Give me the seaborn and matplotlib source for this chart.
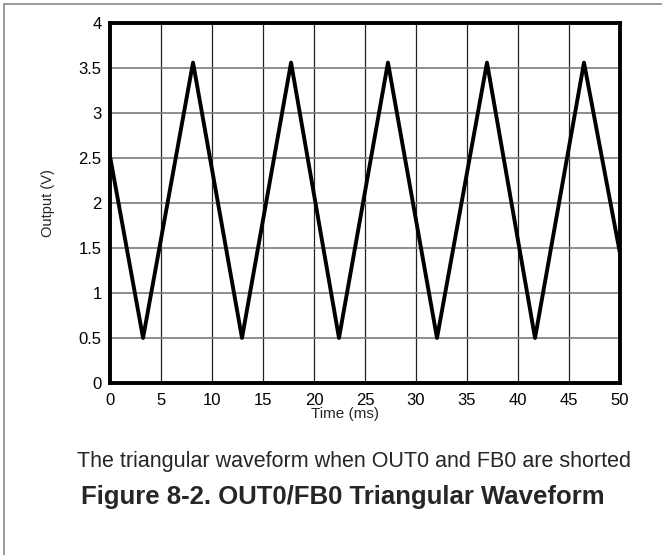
import matplotlib
matplotlib.use("Agg")
import matplotlib.pyplot as plt
import seaborn as sns
import pandas as pd
from matplotlib.patches import Rectangle

# Triangle waveform corner points (time in ms, output in V)
time_ms = [0.0, 3.24, 8.14, 12.94, 17.75, 22.45, 27.25, 32.06, 36.96, 41.67, 46.47, 50.0]
output_v = [2.52, 0.50, 3.56, 0.50, 3.56, 0.50, 3.56, 0.50, 3.56, 0.50, 3.56, 1.44]

x_ticks = [0, 5, 10, 15, 20, 25, 30, 35, 40, 45, 50]
x_tick_labels = ["0", "5", "10", "15", "20", "25", "30", "35", "40", "45", "50"]
y_ticks = [0, 0.5, 1, 1.5, 2, 2.5, 3, 3.5, 4]
y_tick_labels = ["0", "0.5", "1", "1.5", "2", "2.5", "3", "3.5", "4"]

caption = "The triangular waveform when OUT0 and FB0 are shorted"
title = "Figure 8-2. OUT0/FB0 Triangular Waveform"

sns.set_theme(style="white")
plt.rcParams["font.family"] = ["Liberation Sans", "DejaVu Sans"]

W, H = 662, 555
fig = plt.figure(figsize=(W / 100, H / 100), dpi=100)
fig.patch.set_facecolor("white")

# frame around the figure (left and top edges visible)
fig.add_artist(Rectangle((4 / W, -0.05), 1.2, (H - 4) / H + 0.05,
                         transform=fig.transFigure, fill=False,
                         edgecolor="#8a8a8a", linewidth=1.2))

ax = fig.add_axes([110 / W, (H - 383) / H, 510 / W, 360 / H])

df = pd.DataFrame({"Time (ms)": time_ms, "Output (V)": output_v})
sns.lineplot(data=df, x="Time (ms)", y="Output (V)", ax=ax, sort=False,
             estimator=None, color="black", linewidth=2.8, zorder=5)

ax.set_xlim(0, 50)
ax.set_ylim(0, 4)
ax.set_xticks(x_ticks)
ax.set_xticklabels(x_tick_labels)
ax.set_yticks(y_ticks)
ax.set_yticklabels(y_tick_labels)
ax.tick_params(axis="both", length=0, labelsize=12, labelcolor="black")
ax.tick_params(axis="x", pad=7)
ax.tick_params(axis="y", pad=6)

for xv in x_ticks[1:-1]:
    ax.axvline(xv, color="#222222", linewidth=0.9, zorder=1)
for yv in y_ticks[1:-1]:
    ax.axhline(yv, color="#7a7a7a", linewidth=1.2, zorder=1)

for side in ["left", "right", "top", "bottom"]:
    ax.spines[side].set_visible(True)
    ax.spines[side].set_color("black")
    ax.spines[side].set_linewidth(2.8)
    ax.spines[side].set_zorder(6)

ax.set_xlabel("")
ax.set_ylabel("")
fig.text(345 / W, 1 - 414 / H, "Time (ms)", ha="center", va="center", fontsize=11)
fig.text(48 / W, 1 - 203 / H, "Output (V)", ha="center", va="center",
         rotation=90, fontsize=10.5)

fig.text(354 / W, 1 - 461 / H, caption, ha="center", va="center", fontsize=15.5)
fig.text(343 / W, 1 - 497 / H, title, ha="center", va="center",
         fontsize=18.5, fontweight="bold")

fig.savefig("out.png", dpi=100, facecolor="white")
